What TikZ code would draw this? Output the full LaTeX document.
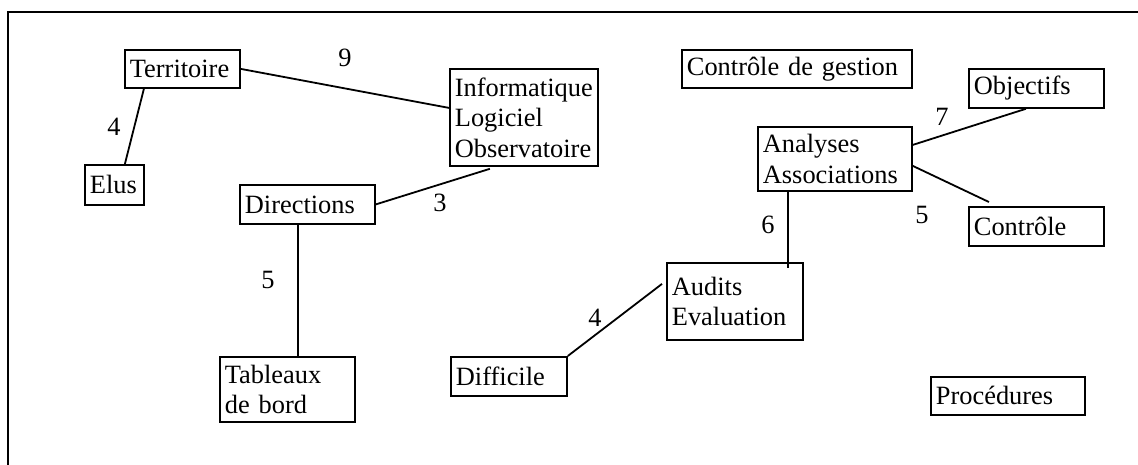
\documentclass[tikz,border=0pt]{standalone}
\usepackage{fontspec}
\setmainfont{Liberation Serif}
\tikzset{
	boite/.style={rectangle, draw, line width=1.8pt, anchor=north west,
		inner xsep=5pt, inner ysep=0pt, align=left,
		font=\fontsize{26.4}{30.5}\selectfont},
	poids/.style={inner sep=0pt, font=\fontsize{26.4}{30.5}\selectfont},
	lien/.style={line width=1.8pt}
}

\begin{document}
\begin{tikzpicture}[x=1pt, y=-1pt]
	\useasboundingbox (0,0) rectangle (1138,465);
	\draw[lien] (8,465) -- (8,12) -- (1138,12);
	
	% boites
	\node[boite, text width=105pt, minimum height=38pt] (terr) at (124,49) {Territoire};
	\node[boite, text width=49pt, minimum height=40pt] (elus) at (84,164) {Elus};
	\node[boite, text width=138pt, minimum height=97pt] (info) at (449,68) {Informatique\\Logiciel\\Observatoire};
	\node[boite, text width=125pt, minimum height=39pt] (dir) at (239,184) {Directions};
	\node[boite, text width=125pt, minimum height=65pt] (tab) at (219,356) {Tableaux\\de bord};
	\node[boite, text width=106pt, minimum height=39pt] (diff) at (450,356) {Difficile};
	\node[boite, text width=126pt, minimum height=77pt] (aud) at (666,262) {Audits\\Evaluation};
	\node[boite, text width=144pt, minimum height=64pt] (ana) at (757,126) {Analyses\\Associations};
	\node[boite, text width=220pt, minimum height=38pt] (cdg) at (681,49) {Contrôle de gestion};
	\node[boite, text width=125pt, minimum height=39pt] (obj) at (968,68) {Objectifs};
	\node[boite, text width=125pt, minimum height=39pt] (cont) at (968,206) {Contrôle};
	\node[boite, text width=144pt, minimum height=38pt] (proc) at (930,376) {Procédures};
	
	% liens
	\draw[lien] (terr.east) -- ([yshift=9.5pt]info.west);
	\draw[lien] ([xshift=-38.5pt]terr.south) -- ([xshift=10.5pt]elus.north);
	\draw[lien] (dir.east) -- ([xshift=-34pt, yshift=-2pt]info.south);
	\draw[lien] ([xshift=-9.5pt]dir.south) -- ([xshift=-9.5pt]dir.south |- tab.north);
	\draw[lien] (diff.north east) -- ([xshift=-4pt, yshift=17.5pt]aud.west);
	\coordinate (bas) at ([xshift=-47pt]ana.south |- aud.north);
	\draw[lien] ([xshift=-47pt]ana.south) -- ([yshift=-6pt]bas);
	\draw[lien] ([yshift=14pt]ana.east) -- ([xshift=-10.5pt]obj.south);
	\draw[lien] ([yshift=-7pt]ana.east) -- ([xshift=-47.5pt, yshift=4pt]cont.north);
	
	% poids
	\node[poids] (p9) at (345,58) {9};
	\node[poids] (p4a) at (114,127) {4};
	\node[poids] (p3) at (440,203) {3};
	\node[poids] (p5a) at (268,280) {5};
	\node[poids] (p4b) at (595,318) {4};
	\node[poids] (p6) at (768,225) {6};
	\node[poids] (p7) at (942,117) {7};
	\node[poids] (p5b) at (922,215) {5};
\end{tikzpicture}
\end{document}
